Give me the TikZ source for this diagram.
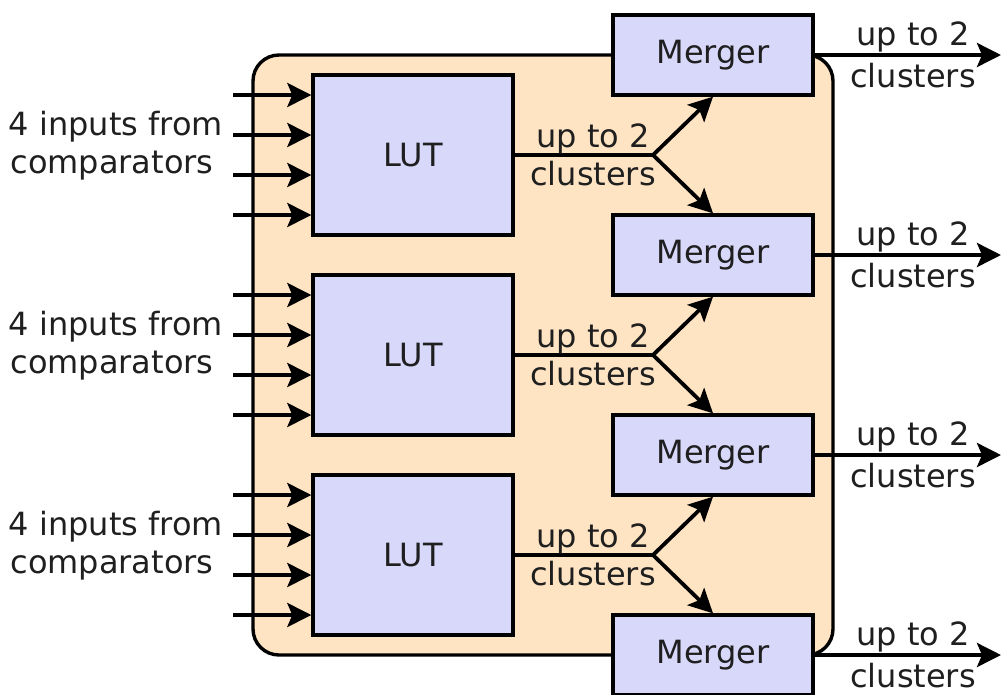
\documentclass[tikz,border=0pt]{standalone}
\usepackage{fontspec}
\setmainfont{DejaVu Sans}
\usetikzlibrary{arrows.meta}
\definecolor{panelfill}{RGB}{255,228,196}
\definecolor{boxfill}{RGB}{216,216,250}
\tikzset{
  txt/.style={font=\fontsize{32}{38}\selectfont, text=black!88, inner sep=0pt, anchor=base},
  lutbox/.style={draw=black, line width=3.4pt, fill=boxfill, minimum width=200pt, minimum height=160pt, inner sep=0pt, font=\fontsize{32}{38}\selectfont, text=black!88},
  mergebox/.style={draw=black, line width=3.4pt, fill=boxfill, minimum width=200pt, minimum height=80pt, inner sep=0pt, font=\fontsize{32}{38}\selectfont, text=black!88},
  wire/.style={draw=black, line width=3.8pt},
  arr/.style={wire, -{Stealth[length=24pt, width=24pt, inset=5pt]}},
}
\begin{document}
\begin{tikzpicture}[x=1pt, y=-1pt]
  \useasboundingbox (0,0) rectangle (1001,694);
  % outer panel
  \draw[line width=3.4pt, fill=panelfill, rounded corners=26pt] (253,55) rectangle (833,655);

  % lookup tables and their input bundles
  \foreach \i/\y in {1/75, 2/275, 3/475} {
    \node[lutbox] (lut\i) at (413,\y+80) {LUT};
    \node[txt] (lab\i a) at (116,\y+60) {4 inputs from};
    \node[txt] (lab\i b) at (112,\y+98) {comparators};
    \foreach \k/\dy in {1/20, 2/60, 3/100, 4/140} {
      \coordinate (in\i\k) at (233,\y+\dy);
      \draw[arr] (in\i\k) -- (lut\i.west |- in\i\k);
    }
  }

  % mergers
  \foreach \j/\y in {1/55, 2/255, 3/455, 4/655} {
    \node[mergebox] (m\j) at (713,\y) {Merger};
    \coordinate (out\j) at (1001,\y);
    \draw[arr] (m\j.east) -- (out\j);
    \node[txt] (ou\j a) at (913,\y-10) {up to 2};
    \node[txt] (ou\j b) at (913,\y+32) {clusters};
  }

  % LUT outputs fanned out to neighbouring mergers
  \foreach \i/\n in {1/2, 2/3, 3/4} {
    \coordinate (b\i) at (653,\i*200-45);
    \draw[wire] (lut\i.east) -- (b\i);
    \draw[arr] (b\i) -- (m\i.south);
    \draw[arr] (b\i) -- (m\n.north);
    \node[txt] (cl\i a) at (593,\i*200-53) {up to 2};
    \node[txt] (cl\i b) at (593,\i*200-15) {clusters};
  }
\end{tikzpicture}
\end{document}
